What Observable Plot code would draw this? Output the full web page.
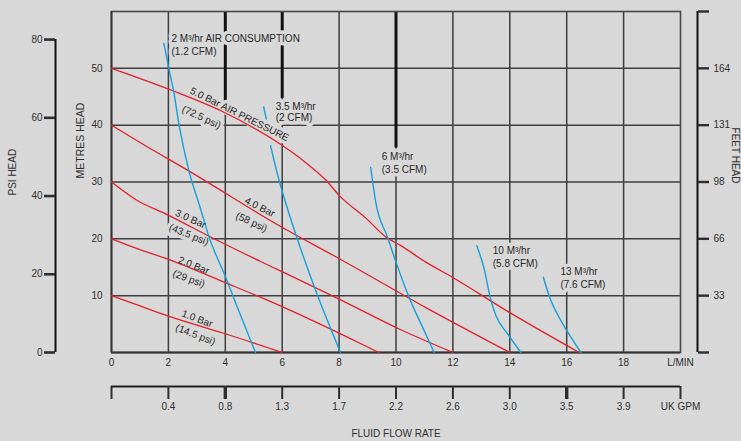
<!DOCTYPE html>
<html>
<head>
<meta charset="utf-8">
<script src="https://cdn.jsdelivr.net/npm/d3@7"></script>
<script src="https://cdn.jsdelivr.net/npm/@observablehq/plot@0.6"></script>
<style>
  html, body { margin: 0; padding: 0; background: #d8d8d8; }
  #chart { width: 741px; height: 441px; overflow: hidden; }
</style>
</head>
<body>
<div id="chart"></div>
<script>
// ---- axis values ----
const flowTicks = [0, 2, 4, 6, 8, 10, 12, 14, 16, 18, 20];
const lpmLabels = ["0", "2", "4", "6", "8", "10", "12", "14", "16", "18", "L/MIN"];
const gpmLabels = ["", "0.4", "0.8", "1.3", "1.7", "2.2", "2.6", "3.0", "3.5", "3.9", "UK GPM"];
const gridFlow = [2, 4, 6, 8, 10, 12, 14, 16, 18];
const metreTicks = [10, 20, 30, 40, 50];
const gridHead = [10, 20, 30, 40, 50];
const feetTicks = [0, 10, 20, 30, 40, 50, 60];
const feetLabels = ["", "33", "66", "98", "131", "164", ""];
const psiTicks = [0, 20, 40, 60, 80];
const PSI_PER_METRE = 1.453;

// ---- air pressure curves (flow L/min, head m) ----
const bar1Flow = [0, 0.78, 2, 4, 6];
const bar1Head = [10, 8.6, 6.4, 3.3, 0];
const bar2Flow = [0, 1, 2, 4, 5.8, 8, 9.4];
const bar2Head = [20, 18.1, 16.4, 12.3, 8.5, 3.4, 0];
const bar3Flow = [0, 0.89, 1.9, 3.73, 5.79, 8, 10.17, 12];
const bar3Head = [30, 26.8, 24.4, 19.7, 14.7, 9.4, 4.0, 0];
const bar4Flow = [0, 1.12, 2.7, 5.9, 8.01, 11.05, 14];
const bar4Head = [40, 36.6, 32, 22.3, 16.5, 7.9, 0];
const bar5Flow = [0, 2.13, 3.9, 5.98, 6.73, 7.54, 8.01, 8.95, 9.65, 10.17, 11.05, 11.98, 13.97, 16.44];
const bar5Head = [50, 46.1, 42.4, 36.5, 33.8, 30.3, 27.6, 23.6, 20.3, 18.8, 15.9, 13.25, 7.1, 0];

// ---- air consumption curves ----
const air2Flow = [1.84, 2.02, 2.19, 2.37, 2.72, 3.13, 3.43, 4.01, 4.42, 5.06];
const air2Head = [54.4, 49.9, 45.8, 40.2, 32.0, 25.3, 20.3, 13.3, 8.0, 0];
const air35Flow = [5.35, 5.44, NaN, 5.59, 5.89, 6.3, 6.53, 7.2, 8.05];
const air35Head = [43.2, 41.1, NaN, 36.4, 30.3, 23.5, 20, 10.6, 0];
const air6Flow = [9.11, 9.29, 9.7, 10, 10.46, 11.04, 11.34];
const air6Head = [32.6, 26.4, 20.3, 15.9, 9.7, 3.3, 0];
const air10Flow = [12.84, 13.1, 13.31, 13.51, 13.92, 14.39];
const air10Head = [18.8, 14.7, 9.7, 6.5, 3.3, 0];
const air13Flow = [15.18, 15.38, 15.73, 16.0, 16.5];
const air13Head = [13.25, 10.0, 6.2, 3.9, 0];

// ---- annotations ----
const airLabelText = ["2 M³/hr AIR CONSUMPTION", "(1.2 CFM)", "3.5 M³/hr", "(2 CFM)", "6 M³/hr", "(3.5 CFM)",
  "10 M³/hr", "(5.8 CFM)", "13 M³/hr", "(7.6 CFM)"];
const airLabelFlow = [2.11, 2.11, 5.77, 5.77, 9.50, 9.50, 13.40, 13.40, 15.78, 15.78];
const airLabelHead = [55.25, 52.97, 43.29, 41.26, 34.49, 32.11, 17.95, 15.61, 14.25, 11.84];

const barLabelText = ["5.0 Bar AIR PRESSURE", "(72.5 psi)", "4.0 Bar", "(58 psi)", "3.0 Bar", "(43.5 psi)",
  "2.0 Bar", "(29 psi)", "1.0 Bar", "(14.5 psi)"];
const barLabelFlow = [4.5, 3.16, 5.21, 4.92, 2.78, 2.72, 2.89, 2.72, 3.01, 2.95];
const barLabelHead = [41.9, 41.4, 25.57, 22.93, 23.49, 20.73, 15.31, 12.97, 5.93, 3.13];
const barLabelAngle = [26.5, 25, 27, 25, 24, 22, 22, 20, 21, 21];

// accent (heavy) grid segments seen on the original
const accentFlow = [4, 6, 10];
const accentTop = [60, 60, 60];
const accentBottom = [44, 44.7, 36];

// ---- build tables ----
const rows = (name, xs, ys) => xs.map((x, i) => ({series: name, flow: x, head: ys[i]}));
const pressureRows = [
  ...rows("1.0", bar1Flow, bar1Head), ...rows("2.0", bar2Flow, bar2Head), ...rows("3.0", bar3Flow, bar3Head),
  ...rows("4.0", bar4Flow, bar4Head), ...rows("5.0", bar5Flow, bar5Head)
];
const airRows = [
  ...rows("2", air2Flow, air2Head), ...rows("3.5", air35Flow, air35Head), ...rows("6", air6Flow, air6Head),
  ...rows("10", air10Flow, air10Head), ...rows("13", air13Flow, air13Head)
];
const airLabels = airLabelText.map((t, i) => ({text: t, flow: airLabelFlow[i], head: airLabelHead[i]}));
const barLabels = barLabelText.map((t, i) => ({text: t, flow: barLabelFlow[i], head: barLabelHead[i], angle: barLabelAngle[i]}));
const accents = accentFlow.map((x, i) => ({flow: x, y1: accentTop[i], y2: accentBottom[i]}));

const BG = "#d8d8d8";
const RED = "#e3202a";
const BLUE = "#179fdb";
const GRID = "#3e3e3e";
const INK = "#262626";

const chart = Plot.plot({
  width: 741,
  height: 441,
  marginTop: 11,
  marginBottom: 89,
  marginLeft: 111,
  marginRight: 61,
  x: {domain: [0, 20], label: null},
  y: {domain: [0, 60], label: null},
  style: {background: "transparent", fontFamily: "'Liberation Sans', Arial, Helvetica, sans-serif", fontSize: "10px", color: "#2e2e2e"},
  marks: [
    // grid
    Plot.ruleX(gridFlow, {stroke: GRID, strokeWidth: 1.5}),
    Plot.ruleY(gridHead, {stroke: GRID, strokeWidth: 1.5}),
    Plot.ruleX(accents, {x: "flow", y1: "y1", y2: "y2", stroke: "#111", strokeWidth: 3}),
    Plot.frame({stroke: "#484848", strokeWidth: 1.6}),
    Plot.ruleY([0], {stroke: "#333", strokeWidth: 2}),
    Plot.ruleX([0], {stroke: "#333", strokeWidth: 1.8}),

    // label knock-outs on the grid
    Plot.text(airLabels, {x: "flow", y: "head", text: "text", textAnchor: "start", fontSize: 10, fill: BG, stroke: BG, strokeWidth: 7}),
    Plot.text(barLabels, {x: "flow", y: "head", text: "text", rotate: "angle", textAnchor: "middle", fontSize: 10, fill: BG, stroke: BG, strokeWidth: 7}),

    // curves
    Plot.line(pressureRows, {x: "flow", y: "head", z: "series", stroke: RED, strokeWidth: 1.3, curve: "monotone-x"}),
    Plot.line(airRows, {x: "flow", y: "head", z: "series", stroke: BLUE, strokeWidth: 1.4, curve: "monotone-x"}),

    // labels
    Plot.text(airLabels, {x: "flow", y: "head", text: "text", textAnchor: "start", fontSize: 10, fill: INK}),
    Plot.text(barLabels, {x: "flow", y: "head", text: "text", rotate: "angle", textAnchor: "middle", fontSize: 10, fill: INK}),

    // L/MIN axis
    Plot.axisX(flowTicks, {anchor: "bottom", tickSize: 0, tickPadding: 6, label: null,
      tickFormat: d => lpmLabels[flowTicks.indexOf(d)]}),
    // UK GPM axis
    Plot.ruleY([0], {dy: 34, stroke: "#1e1e1e", strokeWidth: 2}),
    Plot.axisX(flowTicks, {anchor: "bottom", dy: 34, tickSize: 13, tickPadding: 3, strokeWidth: 2, label: null,
      tickFormat: d => gpmLabels[flowTicks.indexOf(d)]}),
    Plot.axisX([4, 16], {anchor: "bottom", dy: 34, tickSize: 13, strokeWidth: 3.4, label: null, tickFormat: () => ""}),

    // metres axis
    Plot.axisY(metreTicks, {anchor: "left", tickSize: 0, tickPadding: 9, label: null}),
    // PSI axis
    Plot.ruleX([0], {y1: 0, y2: 80 / PSI_PER_METRE, dx: -56, stroke: "#111", strokeWidth: 2}),
    Plot.axisY(psiTicks.map(p => p / PSI_PER_METRE), {anchor: "left", dx: -56, tickSize: 11, tickPadding: 2, strokeWidth: 2.6, label: null,
      tickFormat: d => String(Math.round(d * PSI_PER_METRE))}),
    // feet axis
    Plot.ruleX([20], {dx: 17, stroke: "#111", strokeWidth: 2}),
    Plot.axisY(feetTicks, {anchor: "right", dx: 17, tickSize: 11, tickPadding: 5, strokeWidth: 2.4, label: null,
      tickFormat: d => feetLabels[feetTicks.indexOf(d)]}),

    // axis titles
    Plot.text(["PSI HEAD"], {frameAnchor: "left", rotate: -90, dx: -99, dy: 13.5, fontSize: 10, fill: "#2e2e2e"}),
    Plot.text(["METRES HEAD"], {frameAnchor: "left", rotate: -90, dx: -31, dy: -3.5, fontSize: 10.5, fill: "#2e2e2e"}),
    Plot.text(["FEET HEAD"], {frameAnchor: "right", rotate: 90, dx: 55, dy: 1.5, fontSize: 10, fill: "#2e2e2e"}),
    Plot.text(["FLUID FLOW RATE"], {frameAnchor: "bottom", dy: 84.5, fontSize: 10, fill: "#2e2e2e"})
  ]
});
document.getElementById("chart").appendChild(chart);
</script>
</body>
</html>
